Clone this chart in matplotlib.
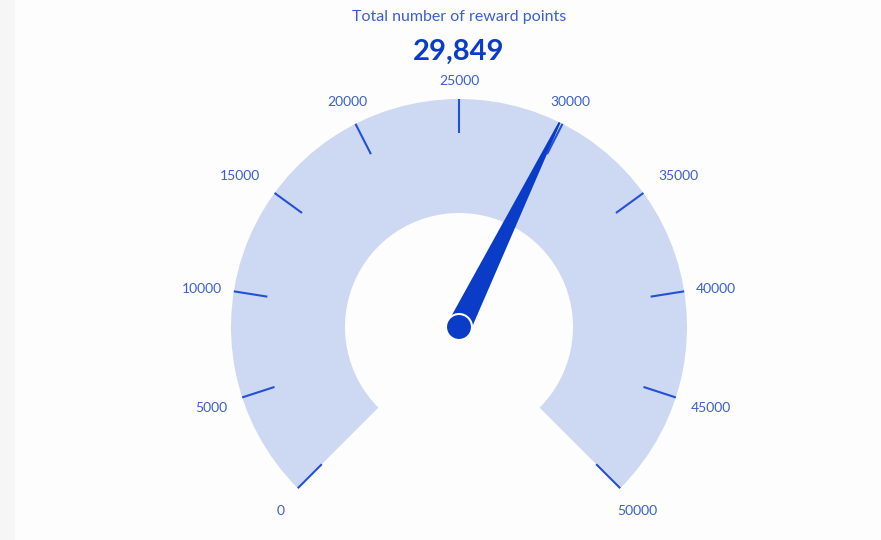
import numpy as np
import matplotlib
matplotlib.use('Agg')
import matplotlib.pyplot as plt
from matplotlib.patches import Wedge, Polygon, Circle, Rectangle

plt.rcParams['font.family'] = ['Lato', 'DejaVu Sans']

title = 'Total number of reward points'
value = 29849
vmin, vmax = 0, 50000
tick_values = [0, 5000, 10000, 15000, 20000, 25000, 30000, 35000, 40000, 45000, 50000]

# layout in pixels (y up)
W, H = 881, 540
cx, cy = 459, 540 - 327
r_out, r_in = 228, 114
a_start, a_span = 225.0, 270.0

band_color = '#cdd9f2'
needle_color = '#0a3cc8'
tick_color = '#2450d6'
label_color = '#3a5fd0'


def to_angle(v):
    return a_start - a_span * (v - vmin) / (vmax - vmin)


fig = plt.figure(figsize=(W / 100, H / 100), dpi=100)
fig.patch.set_facecolor('#fdfdfd')
ax = fig.add_axes([0, 0, 1, 1])
ax.set_xlim(0, W)
ax.set_ylim(0, H)
ax.axis('off')

# left grey strip
ax.add_patch(Rectangle((0, 0), 15, H, color='#f6f6f6', lw=0))

# gauge band
ax.add_patch(Wedge((cx, cy), r_out, to_angle(vmax), to_angle(vmin),
                   width=r_out - r_in, color=band_color, lw=0))

# ticks and labels
for v in tick_values:
    a = np.radians(to_angle(v))
    c, s = np.cos(a), np.sin(a)
    ax.plot([cx + r_out * c, cx + (r_out - 34) * c],
            [cy + r_out * s, cy + (r_out - 34) * s],
            color=tick_color, lw=1.5, solid_capstyle='butt')
    if s < -0.6:
        ha = 'center'
    elif c > 0.5:
        ha = 'left'
    elif c < -0.5:
        ha = 'right'
    else:
        ha = 'center'
    if s > 0.3:
        va = 'bottom'
    elif s < -0.3:
        va = 'top'
    else:
        va = 'center'
    if abs(c) < 0.1:
        rl = 240
    elif s > 0.3:
        rl = 246
    elif s < -0.6:
        rl = 252
    elif s < -0.3:
        rl = 244
    else:
        rl = 240
    ax.text(cx + rl * c, cy + rl * s, str(v), ha=ha, va=va,
            fontsize=10, color=label_color)

# needle
a = np.radians(to_angle(value))
d = np.array([np.cos(a), np.sin(a)])
p = np.array([-d[1], d[0]])
base = np.array([cx, cy])
tip = base + r_out * d
pts = [base + 12 * p, tip + 1 * p, tip - 1 * p, base - 12 * p]
ax.add_patch(Polygon(pts, closed=True, color=needle_color, lw=0))
ax.add_patch(Circle((cx, cy), 13, facecolor=needle_color,
                    edgecolor='white', lw=1.5))

# title and value
ax.text(cx, H - 17, title, ha='center', va='center', fontsize=11.5,
        color=label_color)
ax.text(cx, H - 52, '{:,}'.format(value), ha='center', va='center',
        fontsize=21, fontweight='bold', color=needle_color)

fig.savefig('out.png', dpi=100, facecolor=fig.get_facecolor())
